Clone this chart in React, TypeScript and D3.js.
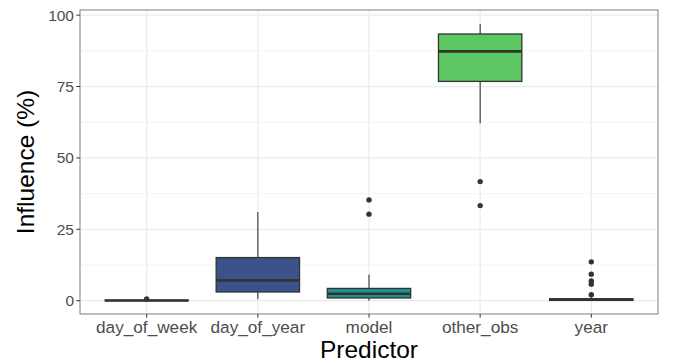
import React from "react";
import * as d3 from "d3";

const categories = ["day_of_week", "day_of_year", "model", "other_obs", "year"];
const colors = ["#440154", "#3B528B", "#21908C", "#5DC863", "#FDE725"];
const whiskerLow = [0, 0.5, 0, 62.1, 0];
const q1 = [0, 3.05, 0.95, 76.8, 0.1];
const median = [0.05, 7.1, 2.45, 87.3, 0.35];
const q3 = [0.15, 15.1, 4.3, 93.4, 0.7];
const whiskerHigh = [0.3, 31.1, 9.2, 96.9, 1.6];
const outliers = [[0.6], [], [35.3, 30.3], [41.7, 33.3], [13.6, 9.3, 6.9, 5.8, 2.1]];
const yTicks = [0, 25, 50, 75, 100];
const yMinor = [12.5, 37.5, 62.5, 87.5];

const W = 681, H = 363;
const panel = { left: 80, right: 658, top: 10, bottom: 314 };
const FONT = "'Liberation Sans', Arial, sans-serif";

export default function App() {
  const x = d3.scaleBand().domain(categories).range([panel.left, panel.right]).paddingOuter(0.1).paddingInner(0);
  const y = d3.scaleLinear().domain([-4.66, 101.8]).range([panel.bottom, panel.top]);
  const bw = x.bandwidth() * 0.75;
  const cx = (c: string) => (x(c) as number) + x.bandwidth() / 2;
  return (
    <svg width={W} height={H} style={{ position: "absolute", left: 0, top: 0 }} fontFamily={FONT}>
      <rect x={0} y={0} width={W} height={H} fill="#fff" />
      {yMinor.map((t) => (
        <line key={"mn" + t} x1={panel.left} x2={panel.right} y1={y(t)} y2={y(t)} stroke="#F4F4F4" strokeWidth={1} />
      ))}
      {yTicks.map((t) => (
        <line key={"mj" + t} x1={panel.left} x2={panel.right} y1={y(t)} y2={y(t)} stroke="#EBEBEB" strokeWidth={1.2} />
      ))}
      {categories.map((c) => (
        <line key={"vg" + c} x1={cx(c)} x2={cx(c)} y1={panel.top} y2={panel.bottom} stroke="#EBEBEB" strokeWidth={1.2} />
      ))}
      {categories.map((c, i) => {
        const xc = cx(c);
        return (
          <g key={c}>
            <line x1={xc} x2={xc} y1={y(q3[i])} y2={y(whiskerHigh[i])} stroke="#333" strokeWidth={1.1} />
            <line x1={xc} x2={xc} y1={y(q1[i])} y2={y(whiskerLow[i])} stroke="#333" strokeWidth={1.1} />
            <rect x={xc - bw / 2} y={y(q3[i])} width={bw} height={Math.max(0, y(q1[i]) - y(q3[i]))} fill={colors[i]} stroke="#333" strokeWidth={1.3} />
            <line x1={xc - bw / 2} x2={xc + bw / 2} y1={y(median[i])} y2={y(median[i])} stroke="#333" strokeWidth={2.6} />
            {outliers[i].map((o, j) => (
              <circle key={j} cx={xc} cy={y(o)} r={2.7} fill="#333" />
            ))}
          </g>
        );
      })}
      <rect x={panel.left} y={panel.top} width={panel.right - panel.left} height={panel.bottom - panel.top} fill="none" stroke="#7F7F7F" strokeWidth={1} />
      {yTicks.map((t) => (
        <g key={"yt" + t}>
          <line x1={panel.left - 3.7} x2={panel.left} y1={y(t)} y2={y(t)} stroke="#333" strokeWidth={1} />
          <text x={panel.left - 6} y={y(t)} dy="0.36em" textAnchor="end" fontSize={15.5} fill="#4D4D4D">{t}</text>
        </g>
      ))}
      {categories.map((c) => (
        <g key={"xt" + c}>
          <line x1={cx(c)} x2={cx(c)} y1={panel.bottom} y2={panel.bottom + 3.7} stroke="#333" strokeWidth={1} />
          <text x={cx(c)} y={332.5} textAnchor="middle" fontSize={17.2} fill="#4D4D4D">{c}</text>
        </g>
      ))}
      <text x={(panel.left + panel.right) / 2} y={357.5} textAnchor="middle" fontSize={24.5} fill="#000">Predictor</text>
      <text transform={`translate(34,${(panel.top + panel.bottom) / 2}) rotate(-90)`} textAnchor="middle" fontSize={24.5} fill="#000">Influence (%)</text>
    </svg>
  );
}
